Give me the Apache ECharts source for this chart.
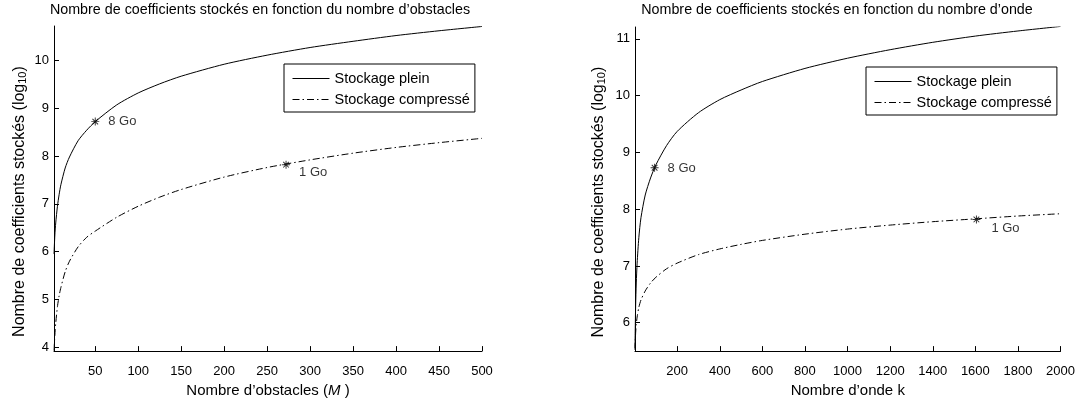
<!DOCTYPE html>
<html><head><meta charset="utf-8">
<script src="https://cdn.jsdelivr.net/npm/echarts@6/dist/echarts.min.js"></script>
<style>html,body{margin:0;padding:0;background:#fff}#c{width:1078px;height:403px}</style>
</head><body><div id="c"></div>
<script>
// ---------- data ----------
const obstacles   = [2, 3, 4, 6, 8, 10, 15, 20, 30, 40, 50, 75, 100, 125, 150, 200, 250, 300, 350, 400, 450, 500];
const fullObst    = [5.95, 6.35, 6.6, 6.95, 7.2, 7.4, 7.75, 7.98, 8.32, 8.54, 8.72, 9.07, 9.32, 9.51, 9.67, 9.92, 10.11, 10.27, 10.4, 10.52, 10.62, 10.71];
const compObst    = [3.93, 4.25, 4.5, 4.85, 5.08, 5.25, 5.58, 5.8, 6.1, 6.3, 6.43, 6.72, 6.95, 7.14, 7.3, 7.56, 7.76, 7.92, 8.06, 8.18, 8.28, 8.37];

const ondes       = [2, 3, 5, 8, 12, 20, 30, 50, 75, 100, 150, 200, 300, 400, 500, 600, 800, 1000, 1200, 1400, 1600, 1800, 2000];
const fullOnde    = [5.55, 5.85, 6.3, 6.7, 7.05, 7.5, 7.85, 8.25, 8.55, 8.78, 9.12, 9.37, 9.7, 9.93, 10.1, 10.25, 10.48, 10.66, 10.81, 10.94, 11.05, 11.14, 11.22];
const compOnde    = [5.52, 5.65, 5.82, 5.97, 6.1, 6.27, 6.4, 6.56, 6.7, 6.8, 6.95, 7.05, 7.2, 7.3, 7.38, 7.45, 7.56, 7.65, 7.72, 7.78, 7.83, 7.88, 7.92];

const markObstX   = [50, 272];
const markObstY   = [8.72, 7.82];
const markOndeX   = [94, 1605];
const markOndeY   = [8.73, 7.82];
const markLabels  = ['8 Go', '1 Go'];

const xTicksObst  = [50, 100, 150, 200, 250, 300, 350, 400, 450, 500];
const yTicksObst  = [4, 5, 6, 7, 8, 9, 10];
const xTicksOnde  = [200, 400, 600, 800, 1000, 1200, 1400, 1600, 1800, 2000];
const yTicksOnde  = [6, 7, 8, 9, 10, 11];

const seriesNames = ['Stockage plein', 'Stockage compressé'];
const titles      = ['Nombre de coefficients stockés en fonction du nombre d’obstacles',
                     'Nombre de coefficients stockés en fonction du nombre d’onde'];
const yName       = ['Nombre de coefficients stockés (log', '10', ')'];
const xNameObst   = ['Nombre d’obstacles (', 'M', ' )'];
const xNameOnde   = 'Nombre d’onde k';

// ---------- helpers ----------
const FONT = 'Liberation Sans, Arial, Helvetica, sans-serif';
const zip = (xs, ys) => xs.map((x, i) => [x, ys[i]]);
const STAR = 'path://M-5,-0.6L5,-0.6L5,0.6L-5,0.6Z M-0.6,-5L0.6,-5L0.6,5L-0.6,5Z M-3.96,-3.11L-3.11,-3.96L3.96,3.11L3.11,3.96Z M3.11,-3.96L3.96,-3.11L-3.11,3.96L-3.96,3.11Z';
const DASHDOT = [7, 3, 1.5, 3];

function xAxis(gi, min, max, ticks, name, rich) {
  return {
    type: 'value', gridIndex: gi, min: min, max: max, position: 'bottom',
    axisLine: { show: true, onZero: false, lineStyle: { color: '#000', width: 1 } },
    axisTick: { show: true, inside: true, length: 5, customValues: ticks, lineStyle: { color: '#000', width: 1 } },
    axisLabel: { customValues: ticks, color: '#000', fontSize: 13, fontFamily: FONT, margin: 14,
                 formatter: v => String(v) },
    splitLine: { show: false },
    name: name, nameLocation: 'middle', nameGap: 24,
    nameTextStyle: { color: '#000', fontSize: 15, fontFamily: FONT, rich: rich }
  };
}
function yAxis(gi, min, max, ticks, gap) {
  return {
    type: 'value', gridIndex: gi, min: min, max: max,
    axisLine: { show: true, onZero: false, lineStyle: { color: '#000', width: 1 } },
    axisTick: { show: true, inside: true, length: 5, customValues: ticks, lineStyle: { color: '#000', width: 1 } },
    axisLabel: { customValues: ticks, color: '#000', fontSize: 13, fontFamily: FONT, margin: 5,
                 formatter: v => String(v) },
    splitLine: { show: false },
    name: '{a|' + yName[0] + '}{s|' + yName[1] + '}{a|' + yName[2] + '}',
    nameLocation: 'middle', nameGap: gap,
    nameTextStyle: {
      color: '#000', fontSize: 16, fontFamily: FONT, padding: [0, 26, 0, 0],
      rich: {
        a: { fontSize: 16, fontFamily: FONT, color: '#000', lineHeight: 16 },
        s: { fontSize: 11, fontFamily: FONT, color: '#000', lineHeight: 11, padding: [11, 0, 0, 0], verticalAlign: 'bottom' }
      }
    }
  };
}
function lineSeries(name, gi, data, dashed) {
  return {
    type: 'line', name: name, xAxisIndex: gi, yAxisIndex: gi, data: data,
    symbol: 'none', smooth: 0.25, silent: true, animation: false,
    lineStyle: { color: '#000', width: 1, type: dashed ? DASHDOT : 'solid' },
    itemStyle: { color: '#000' }
  };
}
function markSeries(gi, xs, ys, offsets) {
  return {
    type: 'scatter', name: 'marks' + gi, xAxisIndex: gi, yAxisIndex: gi,
    symbol: STAR, symbolSize: 8, itemStyle: { color: '#000' }, animation: false, silent: true,
    data: xs.map((x, i) => ({
      value: [x, ys[i]],
      label: { show: true, position: 'right', distance: offsets[i][0], offset: [0, offsets[i][1]],
               formatter: markLabels[i], color: '#000', fontSize: 13, fontFamily: FONT }
    }))
  };
}
function legend(left, top) {
  return {
    data: seriesNames, orient: 'vertical', left: left, top: top,
    backgroundColor: '#fff', borderColor: '#000', borderWidth: 1, borderRadius: 0,
    padding: [7, 5, 5, 8], itemGap: 6, itemWidth: 37, itemHeight: 14,
    itemStyle: { color: 'rgba(0,0,0,0)', borderColor: 'rgba(0,0,0,0)', borderWidth: 0, opacity: 0 },
    lineStyle: { width: 1, color: '#000' },
    textStyle: { color: '#000', fontSize: 14.5, fontFamily: FONT },
    selectedMode: false
  };
}

const chart = echarts.init(document.getElementById('c'), null, { renderer: 'canvas' });
chart.setOption({
  backgroundColor: '#fff',
  animation: false,
  title: [
    { text: titles[0], left: 260, top: 3, padding: 0, textAlign: 'center',
      textStyle: { color: '#000', fontSize: 14.3, fontWeight: 'normal', fontFamily: FONT } },
    { text: titles[1], left: 837, top: 3, padding: 0, textAlign: 'center',
      textStyle: { color: '#000', fontSize: 14.3, fontWeight: 'normal', fontFamily: FONT } }
  ],
  legend: [legend(284, 64), legend(866, 67)],
  grid: [
    { left: 54, width: 428, top: 26, height: 328.5, containLabel: false },
    { left: 635, width: 428, top: 27, height: 327.5, containLabel: false }
  ],
  xAxis: [
    xAxis(0, 2, 500, xTicksObst, '{a|' + xNameObst[0] + '}{i|' + xNameObst[1] + '}{a|' + xNameObst[2] + '}',
      { a: { fontSize: 15, fontFamily: FONT, color: '#000' }, i: { fontSize: 15, fontFamily: FONT, color: '#000', fontStyle: 'italic' } }),
    xAxis(1, 2, 2000, xTicksOnde, xNameOnde, undefined)
  ],
  yAxis: [
    yAxis(0, 3.92, 10.72, yTicksObst, 26),
    yAxis(1, 5.5, 11.21, yTicksOnde, 28)
  ],
  series: [
    lineSeries(seriesNames[0], 0, zip(obstacles, fullObst), false),
    lineSeries(seriesNames[1], 0, zip(obstacles, compObst), true),
    markSeries(0, markObstX, markObstY, [[9, 0], [9, 8]]),
    lineSeries(seriesNames[0], 1, zip(ondes, fullOnde), false),
    lineSeries(seriesNames[1], 1, zip(ondes, compOnde), true),
    markSeries(1, markOndeX, markOndeY, [[9, 1], [11, 9]])
  ]
});
</script></body></html>
